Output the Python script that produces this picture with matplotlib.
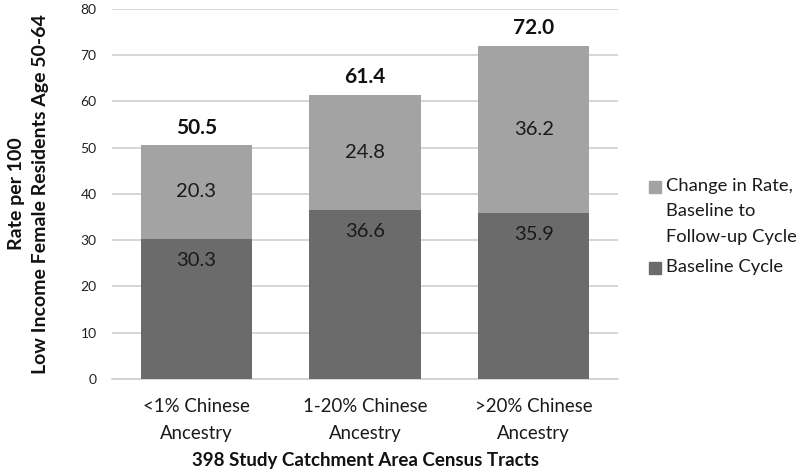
import matplotlib.pyplot as plt
from matplotlib.patches import Rectangle
import numpy as np

categories = ['<1% Chinese\nAncestry', '1-20% Chinese\nAncestry', '>20% Chinese\nAncestry']
baseline = [30.3, 36.6, 35.9]
change = [20.3, 24.8, 36.2]
totals = [50.5, 61.4, 72.0]
series_labels = ['Change in Rate,\nBaseline to\nFollow-up Cycle', 'Baseline Cycle']

plt.rcParams['font.family'] = ['Lato', 'DejaVu Sans']

fig = plt.figure(figsize=(8, 4.73), dpi=100)
ax = fig.add_axes([0.14, 0.199, 0.6325, 0.782])

x = np.arange(len(categories))
dark = '#6b6b6b'
light = '#a3a3a3'
txt = '#1a1a1a'
ax.bar(x, baseline, width=0.66, color=dark, zorder=3)
ax.bar(x, change, bottom=baseline, width=0.66, color=light, zorder=3)

for i in range(len(x)):
    # baseline values sit just inside the top of the dark segment
    ax.text(x[i], baseline[i] - 4.7, f'{baseline[i]:.1f}', ha='center', va='center',
            fontsize=14.5, color=txt, zorder=4)
    # change values centred in the light segment
    ax.text(x[i], baseline[i] + change[i] / 2, f'{change[i]:.1f}', ha='center', va='center',
            fontsize=14.5, color=txt, zorder=4)
    ax.text(x[i], totals[i] + 3.8, f'{totals[i]:.1f}', ha='center', va='center',
            fontsize=15, fontweight='bold', color='#111111', zorder=4)

ax.set_xlim(-0.5, 2.5)
ax.set_ylim(0, 80)
ax.set_yticks(range(0, 81, 10))
ax.set_xticks(x)
ax.set_xticklabels(categories, fontsize=13.4, color=txt, linespacing=1.75)
ax.tick_params(axis='y', labelsize=10, colors='#222222', length=0, pad=11)
ax.tick_params(axis='x', length=0, pad=13.5)
ax.grid(axis='y', color='#d0d0d0', linewidth=1.2, zorder=0)
for s in ['top', 'right', 'left']:
    ax.spines[s].set_visible(False)
ax.spines['bottom'].set_color('#d0d0d0')
ax.spines['bottom'].set_linewidth(1.2)

ax.set_xlabel('398 Study Catchment Area Census Tracts', fontsize=13.5, fontweight='bold',
              color='#111111', labelpad=7)
ax.set_ylabel('Rate per 100\nLow Income Female Residents Age 50-64', fontsize=14,
              fontweight='bold', color='#111111', labelpad=23, linespacing=1.45)

# legend drawn by hand so the swatch lines up with the first text line
leg_colors = [light, dark]
leg_y = [187, 268]
for c, lab, yy in zip(leg_colors, series_labels, leg_y):
    fy = 1 - yy / 473
    fig.patches.append(Rectangle((649 / 800, fy - 6 / 473), 12 / 800, 12 / 473,
                                 transform=fig.transFigure, color=c, figure=fig))
    fig.text(666 / 800, fy + 9 / 473, lab, ha='left', va='top', fontsize=13.2,
             color=txt, linespacing=1.72)

fig.savefig('out.png', dpi=100)
